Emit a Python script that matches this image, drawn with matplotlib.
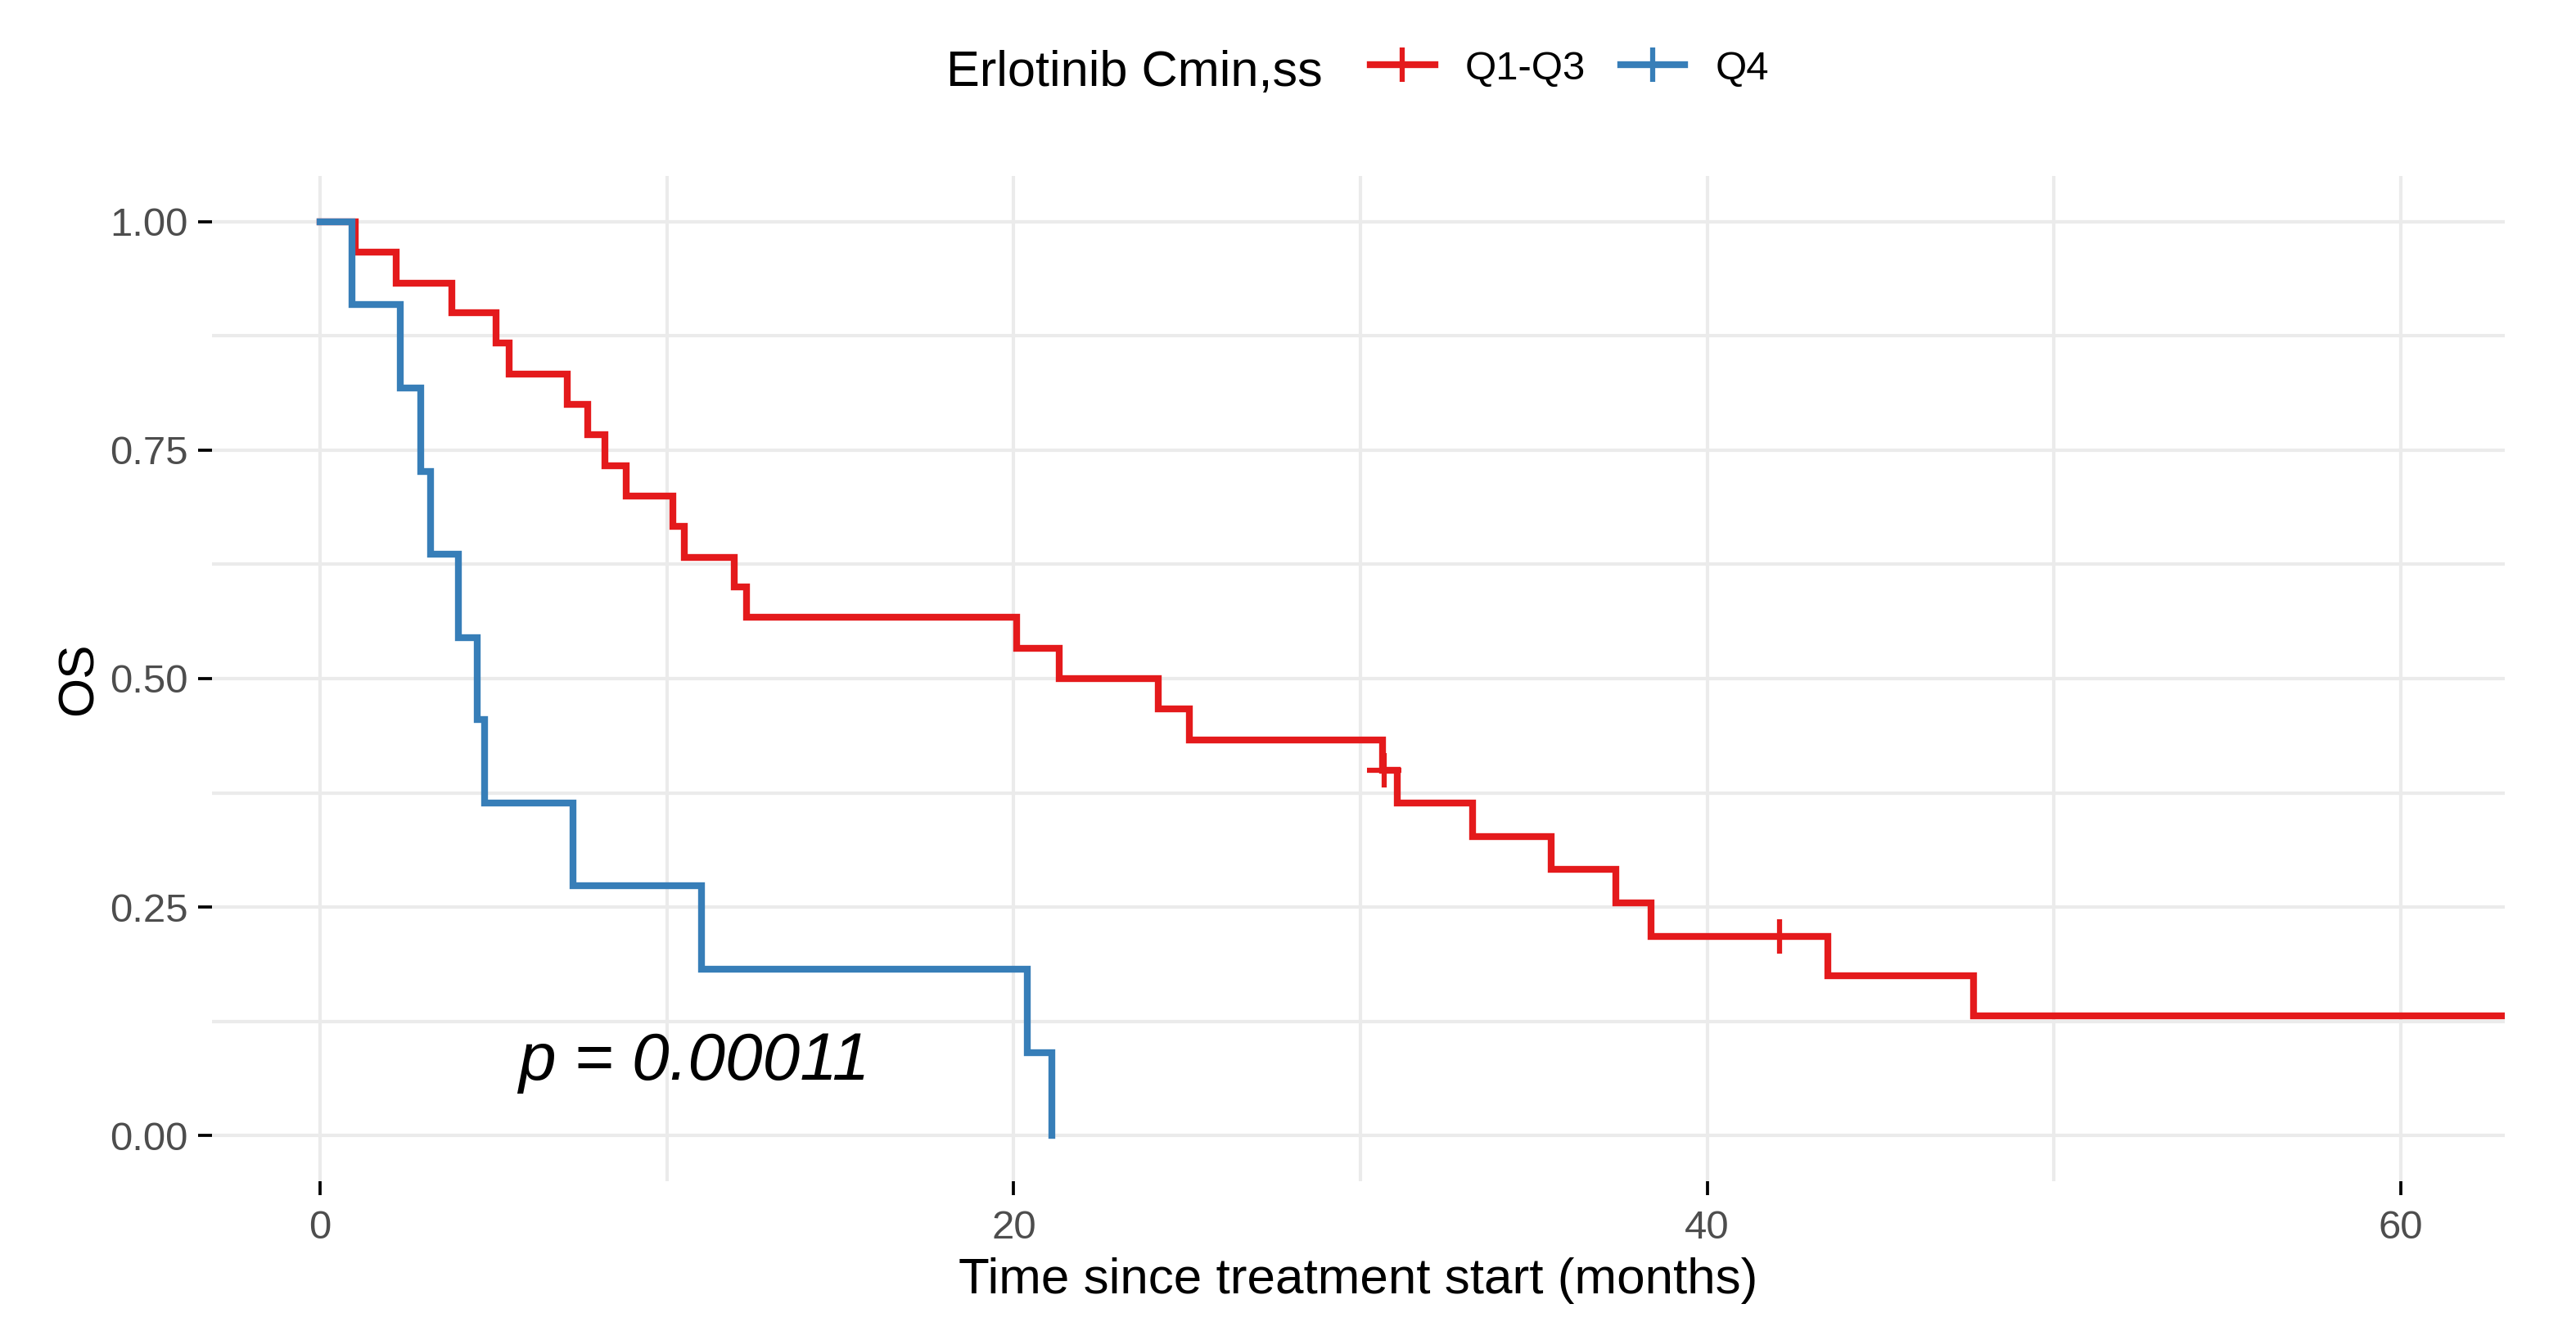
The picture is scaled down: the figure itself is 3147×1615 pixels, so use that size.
import matplotlib
matplotlib.use("Agg")
import matplotlib.pyplot as plt
from matplotlib.lines import Line2D
from matplotlib.ticker import MultipleLocator

plt.rcParams['font.family'] = ['Liberation Sans', 'DejaVu Sans']

# Kaplan-Meier curves (time in months, survival)
q13_time = [0, 1.02, 2.2, 3.8, 5.08, 5.45, 7.13, 7.71, 8.2, 8.82, 10.18, 10.5,
            11.94, 12.3, 20.08, 21.32, 24.17, 25.07, 30.64, 31.06, 33.23,
            35.49, 37.37, 38.38, 43.47, 47.68, 63.2]
q13_surv = [1.0, 0.967, 0.933, 0.900, 0.867, 0.833, 0.800, 0.767, 0.733, 0.700,
            0.667, 0.633, 0.600, 0.567, 0.533, 0.500, 0.467, 0.433, 0.400,
            0.364, 0.327, 0.291, 0.255, 0.218, 0.175, 0.131, 0.131]
q13_cens_time = [30.69, 42.09]
q13_cens_surv = [0.400, 0.218]

q4_time = [0, 0.92, 2.31, 2.9, 3.18, 3.99, 4.52, 4.75, 7.3, 11.0, 20.4, 21.1]
q4_surv = [1.0, 0.909, 0.818, 0.727, 0.636, 0.545, 0.455, 0.364, 0.273, 0.182,
           0.091, 0.0]

red = "#E41A1C"
blue = "#377EB8"
grey_txt = "#4D4D4D"
grid_c = "#EBEBEB"

W, H = 3147, 1615
fig = plt.figure(figsize=(W / 300, H / 300), dpi=300)
ax = fig.add_axes([259 / W, 1 - 1443 / H, (3060 - 259) / W, (1443 - 215) / H])

ax.step(q13_time, q13_surv, where="post", color=red, lw=2.0, solid_joinstyle="miter")
ax.step(q4_time, q4_surv, where="post", color=blue, lw=2.0, solid_joinstyle="miter")
ax.plot(q13_cens_time, q13_cens_surv, ls="none", marker="+", ms=10, mew=1.5, color=red)

ax.set_xlim(-3.12, 63.0)
ax.set_ylim(-0.05, 1.05)
ax.xaxis.set_major_locator(MultipleLocator(20))
ax.xaxis.set_minor_locator(MultipleLocator(10))
ax.yaxis.set_minor_locator(MultipleLocator(0.125))
ax.set_yticks([0, 0.25, 0.5, 0.75, 1.0])
ax.set_yticklabels(["0.00", "0.25", "0.50", "0.75", "1.00"])

ax.grid(True, which="major", color=grid_c, lw=1.0)
ax.grid(True, which="minor", color=grid_c, lw=1.0)
ax.set_axisbelow(True)
for s in ax.spines.values():
    s.set_visible(False)

ax.tick_params(axis="both", which="major", length=4.1, width=0.9, color="black",
               labelcolor=grey_txt, labelsize=11.8, pad=3)
ax.tick_params(axis="x", which="major", pad=4.4)
ax.tick_params(axis="both", which="minor", length=0)

ax.set_xlabel("Time since treatment start (months)", fontsize=14.9, labelpad=3)
ax.set_ylabel("OS", fontsize=14.9, labelpad=2)

ax.text(5.72, 0.08, "p = 0.00011", fontsize=19.7, style="italic", ha="left", va="center")

# legend on top
fig.text(1156 / W, 1 - 105 / H, "Erlotinib Cmin,ss", fontsize=14.7, ha="left", va="baseline")
handles = [Line2D([], [], color=red, lw=2.0, marker="+", ms=10, mew=1.5),
           Line2D([], [], color=blue, lw=2.0, marker="+", ms=10, mew=1.5)]
fig.legend(handles, ["Q1-Q3", "Q4"], loc="center left",
           bbox_to_anchor=(1674 / W, 1 - 84 / H), ncol=2, frameon=False,
           fontsize=11.8, borderpad=0, borderaxespad=0, handlelength=1.6,
           handletextpad=0.76, columnspacing=0.86)

fig.savefig("out.png", dpi=300, facecolor="white")
